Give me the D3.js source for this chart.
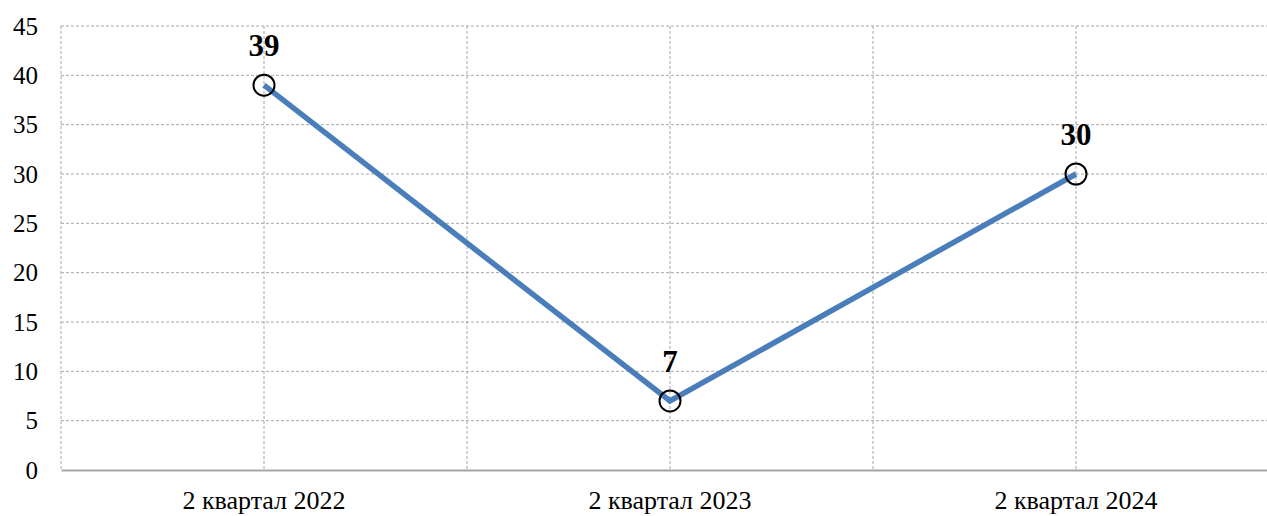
<!DOCTYPE html>
<html>
<head>
<meta charset="utf-8">
<script src="https://cdn.jsdelivr.net/npm/d3@7"></script>
<style>
  body { margin: 0; background: #fff; }
  svg text { font-family: "Liberation Serif", "Times New Roman", "DejaVu Serif", serif; }
</style>
</head>
<body>
<div class="canvas"></div>
<script>
const categories = ['2 квартал 2022', '2 квартал 2023', '2 квартал 2024'];
const values = [39, 7, 30];
const yTicks = [0, 5, 10, 15, 20, 25, 30, 35, 40, 45];

const serif = '"Liberation Serif", "Times New Roman", serif';
const width = 1267, height = 516;
const margin = { top: 26, right: -12, bottom: 46, left: 61 };
const graphWidth = width - margin.left - margin.right;
const graphHeight = height - margin.top - margin.bottom;

const svg = d3.select('.canvas')
  .append('svg')
  .attr('width', width)
  .attr('height', height);

const graph = svg.append('g')
  .attr('transform', `translate(${margin.left},${margin.top})`);

// scales
const x = d3.scaleBand()
  .domain(categories)
  .range([0, graphWidth]);

const y = d3.scaleLinear()
  .domain([0, 45])
  .range([graphHeight, 0]);

// horizontal grid
graph.append('g')
  .selectAll('line')
  .data(yTicks.filter(d => d > 0))
  .enter()
  .append('line')
  .attr('x1', 0)
  .attr('x2', graphWidth)
  .attr('y1', d => y(d))
  .attr('y2', d => y(d))
  .attr('stroke', '#a6a6a6')
  .attr('stroke-width', 1)
  .attr('stroke-dasharray', '3,2');

// vertical grid: band edges and centres
const vLines = [0];
categories.forEach(c => {
  vLines.push(x(c) + x.bandwidth() / 2);
  vLines.push(x(c) + x.bandwidth());
});
graph.append('g')
  .selectAll('line')
  .data(vLines)
  .enter()
  .append('line')
  .attr('x1', d => d)
  .attr('x2', d => d)
  .attr('y1', 0)
  .attr('y2', graphHeight)
  .attr('stroke', '#a6a6a6')
  .attr('stroke-width', 1)
  .attr('stroke-dasharray', '3,2');

// axes
const yAxis = d3.axisLeft(y).tickValues(yTicks).tickSize(0).tickPadding(23);
const yAxisGroup = graph.append('g').call(yAxis);
yAxisGroup.select('.domain').remove();
yAxisGroup.selectAll('text')
  .style('font-family', serif)
  .style('font-size', '25px')
  .style('fill', '#000');

const xAxis = d3.axisBottom(x).tickSize(0).tickPadding(21);
const xAxisGroup = graph.append('g')
  .attr('transform', `translate(0,${graphHeight})`)
  .call(xAxis);
xAxisGroup.select('.domain')
  .attr('stroke', '#a6a6a6')
  .attr('stroke-width', 2);
xAxisGroup.selectAll('text')
  .style('font-family', serif)
  .style('font-size', '26px')
  .style('fill', '#000');

// line
const cx = (d, i) => x(categories[i]) + x.bandwidth() / 2;
const line = d3.line()
  .x(cx)
  .y(d => y(d));

graph.append('path')
  .datum(values)
  .attr('d', line)
  .attr('fill', 'none')
  .attr('stroke', '#4a7ebb')
  .attr('stroke-width', 5.5)
  .attr('stroke-linejoin', 'miter');

// markers
graph.selectAll('circle')
  .data(values)
  .enter()
  .append('circle')
  .attr('cx', cx)
  .attr('cy', d => y(d))
  .attr('r', 10.5)
  .attr('fill', 'none')
  .attr('stroke', '#000')
  .attr('stroke-width', 2);

// data labels
graph.selectAll('.label')
  .data(values)
  .enter()
  .append('text')
  .attr('class', 'label')
  .attr('x', cx)
  .attr('y', d => y(d) - 29)
  .attr('text-anchor', 'middle')
  .style('font-family', serif)
  .style('font-size', '31px')
  .style('font-weight', 'bold')
  .text(d => d);
</script>
</body>
</html>
